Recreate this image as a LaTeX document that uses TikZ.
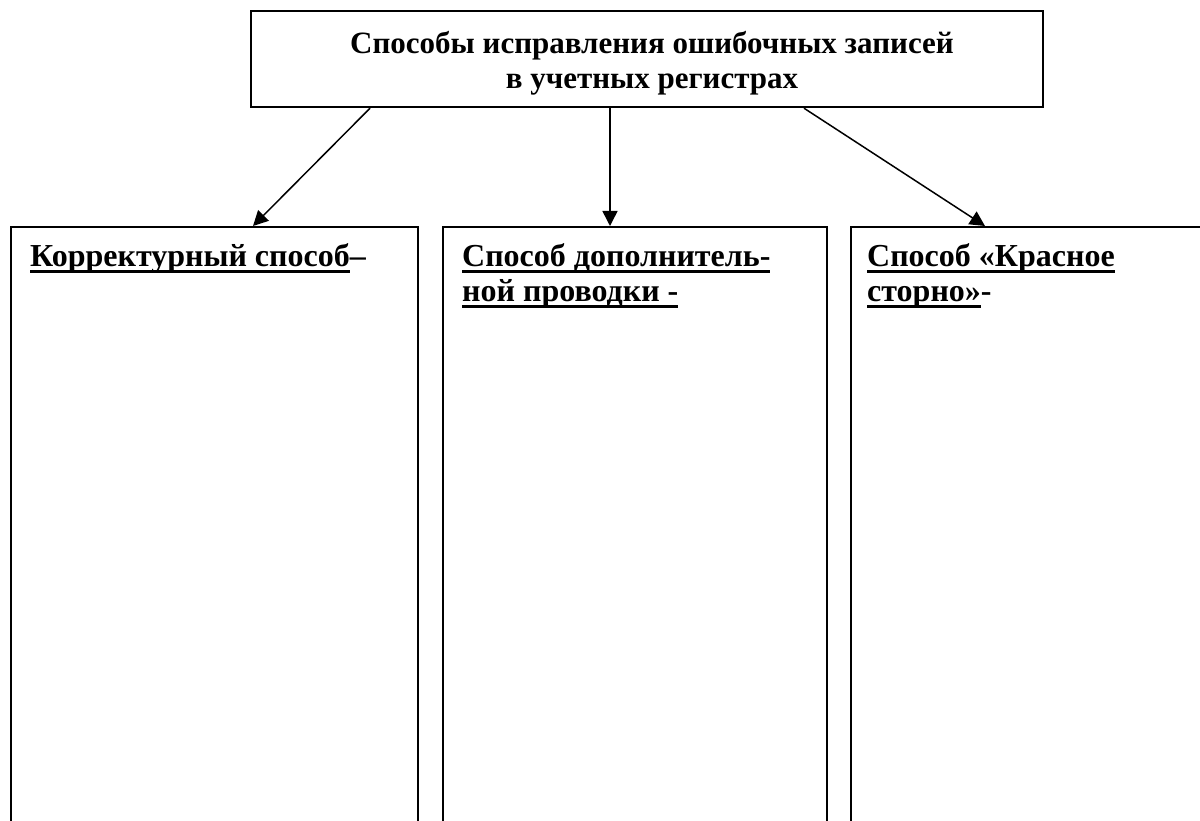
\documentclass[tikz,border=0pt]{standalone}
\usepackage{fontspec}
\setmainfont{Liberation Serif}
\usetikzlibrary{arrows.meta}
\newcommand{\ulx}[1]{\leavevmode\setbox0\hbox{#1}\rlap{\rule[-6pt]{\wd0}{2.6pt}}\box0}
\tikzset{
  box/.style={draw, line width=2.2pt, anchor=north west, inner sep=0pt},
  arr/.style={line width=1.5pt, -{Triangle[length=15pt,width=15pt]}},
  lbl/.style={anchor=base west, inner sep=0pt, font=\fontsize{32}{35}\selectfont\bfseries},
  ttl/.style={align=center, inner sep=0pt, font=\fontsize{31}{35}\selectfont\bfseries}
}
\begin{document}
\begin{tikzpicture}[x=1pt,y=-1pt]
\useasboundingbox (0,0) rectangle (1200,821);
\clip (0,0) rectangle (1200,821);
\node[box, minimum width=792pt, minimum height=96pt] (top) at (250,10) {};
\node[ttl] (ttltext) at (652,63) {Способы исправления ошибочных записей\\в учетных регистрах};
\node[box, minimum width=407pt, minimum height=650pt] (left) at (10,226) {};
\node[box, minimum width=384pt, minimum height=650pt] (mid) at (442,226) {};
\node[box, minimum width=400pt, minimum height=650pt] (right) at (850,226) {};
\node[lbl] (l1) at (30,267) {\ulx{Корректурный способ}–};
\node[lbl] (l2) at (462,267) {\vtop{\hbox{\ulx{Способ дополнитель-}}\hbox{\ulx{ной проводки -}}}};
\node[lbl] (l3) at (867,267) {\vtop{\hbox{\ulx{Способ «Красное}}\hbox{\ulx{сторно»}-}}};
\draw[arr] ([xshift=120pt]top.south west) -- ([xshift=243pt]left.north west);
\draw[arr] ([xshift=360pt]top.south west) -- ([xshift=168pt]mid.north west);
\draw[arr] ([xshift=554pt]top.south west) -- ([xshift=135pt]right.north west);
\end{tikzpicture}
\end{document}
